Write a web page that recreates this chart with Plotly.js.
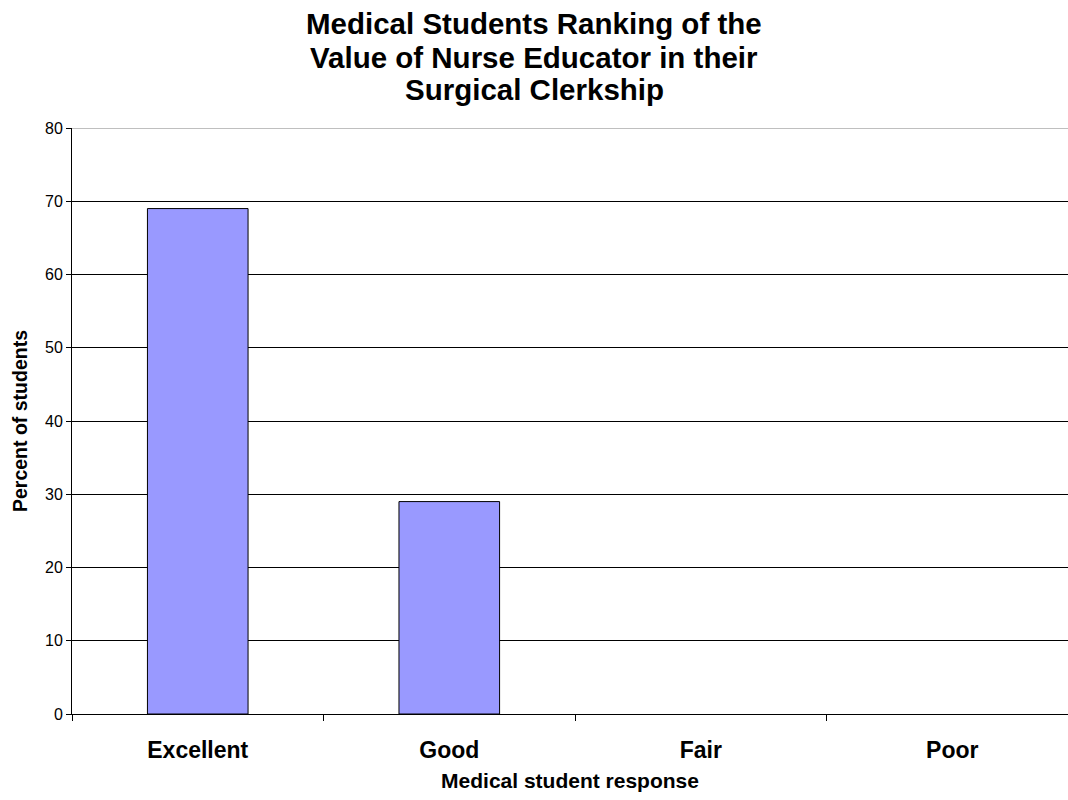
<!DOCTYPE html>
<html>
<head>
<meta charset="utf-8">
<script src="https://cdn.plot.ly/plotly-3.0.1.min.js"></script>
<style>html,body{margin:0;padding:0;background:#fff;}#chart{width:1068px;height:800px;}</style>
</head>
<body>
<div id="chart"></div>
<script>
var categories = ["Excellent", "Good", "Fair", "Poor"];
var percentStudents = [69, 29, 0, 0];
var yTicks = [0, 10, 20, 30, 40, 50, 60, 70, 80];
var titleLines = ["Medical Students Ranking of the", "Value of Nurse Educator in their", "Surgical Clerkship"];

var FONT = "Liberation Sans, Arial, sans-serif";
var plotTop = 128, plotBottom = 714;
function paperY(px) { return (plotBottom - px) / (plotBottom - plotTop); }

var trace = {
  type: "bar",
  x: categories,
  y: percentStudents,
  width: 0.4,
  marker: {
    color: "#9999FF",
    line: {color: "#000000", width: percentStudents.map(function (v) { return v > 0 ? 1 : 0; })}
  },
  hoverinfo: "none"
};

var titleCenters = [23, 57, 90];
var annotations = titleLines.map(function (t, i) {
  return {
    text: t, showarrow: false, xref: "paper", yref: "paper",
    x: (534 - 72) / 996, xanchor: "center",
    y: paperY(titleCenters[i]), yanchor: "middle",
    font: {size: 29.5, family: FONT, color: "#000000", weight: "bold"}
  };
});

var layout = {
  width: 1068,
  height: 800,
  paper_bgcolor: "#ffffff",
  plot_bgcolor: "#ffffff",
  margin: {l: 72, r: 0, t: plotTop, b: 800 - plotBottom},
  showlegend: false,
  font: {family: FONT, color: "#000000"},
  annotations: annotations,
  xaxis: {
    type: "category",
    range: [-0.5, 3.46],
    showline: true, linecolor: "#000000", linewidth: 1,
    ticks: "outside", ticklen: 6, tickcolor: "#000000", tickwidth: 1,
    tickson: "boundaries",
    ticklabelstandoff: 15,
    showgrid: false, zeroline: false,
    tickfont: {size: 23, weight: "bold"},
    title: {text: "Medical student response", font: {size: 21, weight: "bold"}, standoff: 11}
  },
  yaxis: {
    range: [0, 80],
    tickvals: yTicks,
    showline: true, linecolor: "#000000", linewidth: 1,
    ticks: "outside", ticklen: 5, tickcolor: "#000000", tickwidth: 1,
    showgrid: true, gridcolor: "#000000", gridwidth: 1,
    zeroline: false,
    tickfont: {size: 16},
    title: {text: "Percent of students", font: {size: 19.5, weight: "bold"}, standoff: 12}
  },
  shapes: [
    {type: "line", xref: "paper", yref: "y", x0: 0, x1: 1, y0: 80, y1: 80,
     line: {color: "#808080", width: 1}, layer: "above"}
  ]
};

Plotly.newPlot("chart", [trace], layout, {displayModeBar: false, staticPlot: true});
</script>
</body>
</html>
